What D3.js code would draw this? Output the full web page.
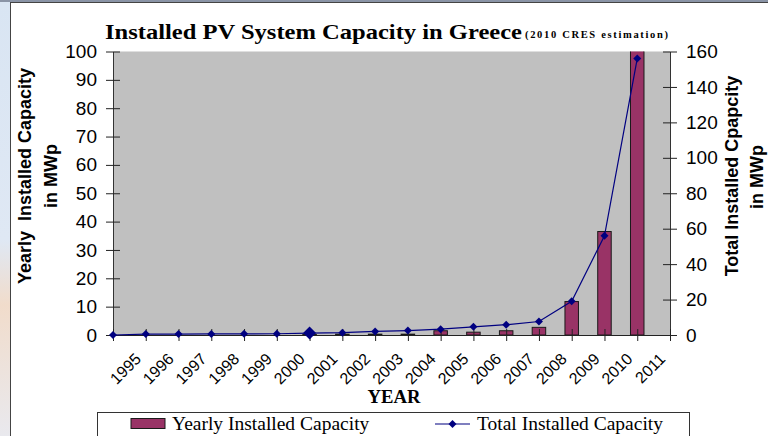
<!DOCTYPE html>
<html><head><meta charset="utf-8">
<script src="https://cdn.jsdelivr.net/npm/d3@7"></script>
<style>
html,body{margin:0;padding:0;background:#fff;}
svg{display:block;}
</style></head>
<body>
<svg id="chart" width="768" height="436"></svg>
<script>
// ---- data ----
const years = ['1995','1996','1997','1998','1999','2000','2001','2002','2003','2004','2005','2006','2007','2008','2009','2010','2011'];
const yearlyCapacity = [0,0,0,0,0,0,0.2,0.3,0.3,0.3,1.5,1.0,1.5,2.7,11.8,36.5,150];
const totalCapacity  = [0,0.5,0.55,0.6,0.65,0.7,1.1,1.3,2.0,2.5,3.3,4.6,5.8,7.6,19,56,156];
const leftTicks = [0,10,20,30,40,50,60,70,80,90,100];
const rightTicks = [0,20,40,60,80,100,120,140,160];
const seriesNames = ['Yearly Installed Capacity','Total Installed Capacity'];

// ---- layout ----
const svg = d3.select('#chart');
const L = 113, R = 670, T = 51.5, B = 335;
const sans = '"Liberation Sans", Arial, sans-serif';
const serif = '"Liberation Serif", "Times New Roman", serif';

// background: slide strip + frame
const defs = svg.append('defs');
const g1 = defs.append('linearGradient').attr('id','strip').attr('x1',0).attr('y1',0).attr('x2',0).attr('y2',1);
g1.append('stop').attr('offset','0').attr('stop-color','#d9e5f3');
g1.append('stop').attr('offset','0.55').attr('stop-color','#dfe8f4');
g1.append('stop').attr('offset','0.7').attr('stop-color','#f1dccb');
g1.append('stop').attr('offset','1').attr('stop-color','#e9e9ee');
svg.append('rect').attr('x',0).attr('y',0).attr('width',10).attr('height',436).attr('fill','url(#strip)');
svg.append('rect').attr('x',0).attr('y',0).attr('width',768).attr('height',2).attr('fill','#8a94a6');
svg.append('line').attr('x1',10.5).attr('y1',2).attr('x2',10.5).attr('y2',436).attr('stroke','#444').attr('stroke-width',1);
svg.append('line').attr('x1',10).attr('y1',2.5).attr('x2',768).attr('y2',2.5).attr('stroke','#444').attr('stroke-width',1);

defs.append('clipPath').attr('id','plotclip').append('rect')
  .attr('x',L).attr('y',T).attr('width',R-L).attr('height',B-T);

// scales
const xb = d3.scaleBand().domain(years).range([L,R]).paddingInner(0).paddingOuter(0);
const xi = d3.scaleLinear().domain([0,years.length]).range([L,R]);
const yL = d3.scaleLinear().domain([0,100]).range([B,T]);
const yR = d3.scaleLinear().domain([0,160]).range([B,T]);

// plot area
svg.append('rect').attr('x',L).attr('y',T).attr('width',R-L).attr('height',B-T).attr('fill','#c0c0c0');

// bars
const barW = 13.5;
svg.append('g').attr('clip-path','url(#plotclip)')
  .selectAll('rect').data(years).join('rect')
  .attr('x', (d,i)=>xb(d)-barW/2)
  .attr('y', (d,i)=>yL(Math.min(yearlyCapacity[i],102)))
  .attr('width', barW)
  .attr('height', (d,i)=>yL(0)-yL(Math.min(yearlyCapacity[i],102)))
  .attr('fill','#993366').attr('stroke','#1a1a1a').attr('stroke-width',1)
  .attr('display',(d,i)=>yearlyCapacity[i]>0?null:'none');

// axes
const axL = svg.append('g').attr('transform',`translate(${L},0)`)
  .call(d3.axisLeft(yL).tickValues(leftTicks).tickSizeInner(7).tickSizeOuter(0).tickPadding(9));
axL.selectAll('.tick line').attr('x1',-7).attr('x2',7).attr('stroke','#222');
axL.select('.domain').attr('stroke','#333');
axL.selectAll('text').attr('font-family',sans).attr('font-size',19).attr('fill','#000');

const axR = svg.append('g').attr('transform',`translate(${R},0)`)
  .call(d3.axisRight(yR).tickValues(rightTicks).tickSizeInner(7).tickSizeOuter(0).tickPadding(9));
axR.selectAll('.tick line').attr('x1',-7).attr('x2',7).attr('stroke','#222');
axR.select('.domain').attr('stroke','#333');
axR.selectAll('text').attr('font-family',sans).attr('font-size',19).attr('fill','#000');

const axB = svg.append('g').attr('transform',`translate(0,${B})`)
  .call(d3.axisBottom(xi).tickValues(d3.range(years.length+1)).tickFormat('').tickSizeOuter(0));
axB.selectAll('.tick line').attr('y1',-6).attr('y2',6).attr('stroke','#222');
axB.select('.domain').attr('stroke','#222');

// x labels
svg.append('g').selectAll('text').data(years).join('text')
  .attr('transform', d=>`translate(${xb(d)+25},356) rotate(-45)`)
  .attr('text-anchor','end').attr('dy','0.35em')
  .attr('font-family',sans).attr('font-size',16).attr('fill','#000')
  .text(d=>d);

// line + markers
const line = d3.line().x((d,i)=>xb(years[i])).y(d=>yR(d));
svg.append('path').datum(totalCapacity).attr('d',line)
  .attr('fill','none').attr('stroke','#000080').attr('stroke-width',1.2);
svg.append('g').selectAll('path').data(totalCapacity).join('path')
  .attr('transform',(d,i)=>`translate(${xb(years[i])},${yR(d)})`)
  .attr('d',(d,i)=>{const s = i===6?6.5:4; return `M0,${-s}L${s},0L0,${s}L${-s},0Z`;})
  .attr('fill','#000080');

// titles
svg.append('text').attr('x',105).attr('y',39).attr('font-family',serif).attr('font-weight','bold')
  .attr('font-size',21.5).attr('textLength',417).attr('lengthAdjust','spacingAndGlyphs')
  .text('Installed PV System Capacity in Greece');
svg.append('text').attr('x',525).attr('y',38).attr('font-family',serif).attr('font-weight','bold')
  .attr('font-size',10.5).attr('textLength',143).attr('lengthAdjust','spacing')
  .text('(2010 CRES estimation)');

svg.append('text').attr('transform','translate(31,176) rotate(-90)').attr('text-anchor','middle')
  .attr('font-family',sans).attr('font-weight','bold').attr('font-size',18).attr('xml:space','preserve')
  .text('Yearly  Installed Capacity');
svg.append('text').attr('transform','translate(57,176) rotate(-90)').attr('text-anchor','middle')
  .attr('font-family',sans).attr('font-weight','bold').attr('font-size',18)
  .text('in MWp');
svg.append('text').attr('transform','translate(738,176) rotate(-90)').attr('text-anchor','middle')
  .attr('font-family',sans).attr('font-weight','bold').attr('font-size',18)
  .text('Total Installed Cpapcity');
svg.append('text').attr('transform','translate(763,177) rotate(-90)').attr('text-anchor','middle')
  .attr('font-family',sans).attr('font-weight','bold').attr('font-size',18)
  .text('in MWp');

svg.append('text').attr('x',394).attr('y',403).attr('text-anchor','middle')
  .attr('font-family',serif).attr('font-weight','bold').attr('font-size',18)
  .attr('textLength',53).attr('lengthAdjust','spacingAndGlyphs').text('YEAR');

// legend
const lg = svg.append('g');
lg.append('rect').attr('x',97.5).attr('y',412.5).attr('width',592).attr('height',40)
  .attr('fill','#fff').attr('stroke','#333').attr('stroke-width',1);
lg.append('rect').attr('x',131).attr('y',418.5).attr('width',34).attr('height',10)
  .attr('fill','#993366').attr('stroke','#1a1a1a');
lg.append('text').attr('x',172).attr('y',430).attr('font-family',serif).attr('font-size',19.5)
  .text(seriesNames[0]);
lg.append('line').attr('x1',435).attr('x2',470).attr('y1',424).attr('y2',424)
  .attr('stroke','#000080').attr('stroke-width',1.2);
lg.append('path').attr('transform','translate(452.5,424)').attr('d','M0,-4L4,0L0,4L-4,0Z').attr('fill','#000080');
lg.append('text').attr('x',477).attr('y',430).attr('font-family',serif).attr('font-size',19.5)
  .text(seriesNames[1]);
</script>
</body></html>
